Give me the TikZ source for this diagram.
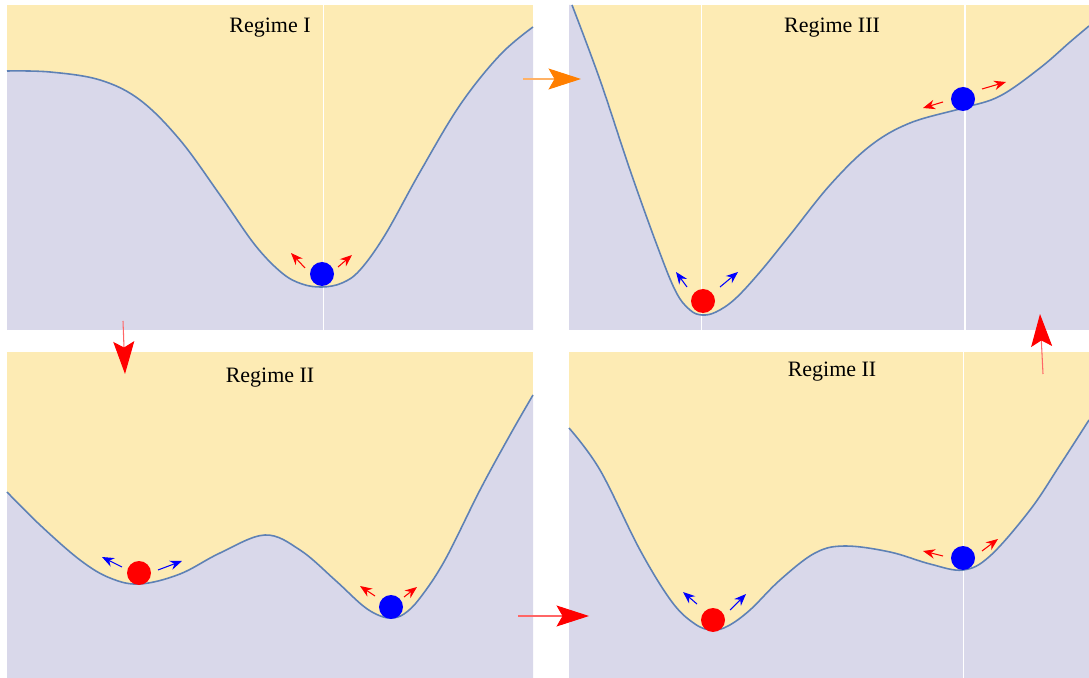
\documentclass[tikz,border=0pt]{standalone}
\usepackage{fontspec}
\setmainfont{Liberation Serif}
\usetikzlibrary{arrows.meta}
\definecolor{WellYellow}{HTML}{FDEBB4}
\definecolor{WellLilac}{HTML}{D9D8EA}
\definecolor{CurveBlue}{HTML}{5E81B5}
\definecolor{FlowOrange}{HTML}{FF7F00}

\begin{document}
\begin{tikzpicture}[x=0.02cm,y=-0.02cm,
    every node/.style={font=\fontsize{12.5}{14}\selectfont},
    landscape/.style={draw=CurveBlue,line width=0.9pt},
    ball/.style={circle,inner sep=0pt,minimum size=0.48cm},
    kick/.style={-{Stealth[length=2.4mm,width=1.9mm]},line width=0.6pt},
    flow/.style={-{Stealth[length=6.5mm,width=4.2mm,inset=1.2mm,color=#1]},
                 line width=0.6pt,draw=#1!60}]
  \useasboundingbox (0,0) rectangle (1089,678);

  % Regime I
  \fill[WellYellow] (7,5) rectangle (533,330);
  \fill[WellLilac] plot[smooth,tension=0.6] coordinates {(7,71) (50,72) (100,80)
    (140,100) (180,140) (220,195) (255,245) (282,273) (302,284) (322,287)
    (342,283) (360,270) (385,235) (420,172) (460,105) (500,55) (533,27)}
    -- (533,330) -- (7,330) -- cycle;
  \draw[white,line width=0.3pt] (323,5) -- (323,330);
  \draw[landscape] plot[smooth,tension=0.6] coordinates {(7,71) (50,72) (100,80)
    (140,100) (180,140) (220,195) (255,245) (282,273) (302,284) (322,287)
    (342,283) (360,270) (385,235) (420,172) (460,105) (500,55) (533,27)};
  \node (t1) at (270,28) {Regime I};
  \node[ball,fill=blue] (b1) at (322,274) {};
  \draw[kick,red] ([shift={(-17,-6)}]b1.center) -- ++(-14,-15);
  \draw[kick,red] ([shift={(16,-7)}]b1.center) -- ++(14,-12);

  % Regime III
  \fill[WellYellow] (569,5) rectangle (1089,330);
  \fill[WellLilac] plot[smooth,tension=0.6] coordinates {(572,5) (600,80)
    (630,170) (658,248) (676,292) (690,310) (702,315) (716,312) (735,299)
    (760,272) (790,235) (830,185) (870,146) (910,123) (963,108) (1000,96)
    (1040,68) (1070,42) (1089,26)}
    -- (1089,330) -- (569,330) -- (569,5) -- cycle;
  \draw[white,line width=0.3pt] (701,5) -- (701,330);
  \draw[white,line width=1.2pt] (965,5) -- (965,330);
  \draw[landscape] plot[smooth,tension=0.6] coordinates {(572,5) (600,80)
    (630,170) (658,248) (676,292) (690,310) (702,315) (716,312) (735,299)
    (760,272) (790,235) (830,185) (870,146) (910,123) (963,108) (1000,96)
    (1040,68) (1070,42) (1089,26)};
  \node (t2) at (832,28) {Regime III};
  \node[ball,fill=red] (b2) at (703,301) {};
  \draw[kick,blue] ([shift={(-16,-14)}]b2.center) -- ++(-11,-15);
  \draw[kick,blue] ([shift={(17,-14)}]b2.center) -- ++(18,-15);
  \node[ball,fill=blue] (b3) at (963,99) {};
  \draw[kick,red] ([shift={(-20,3)}]b3.center) -- ++(-20,6);
  \draw[kick,red] ([shift={(19,-10)}]b3.center) -- ++(24,-7);

  % Regime II (left)
  \fill[WellYellow] (7,352) rectangle (533,678);
  \fill[WellLilac] plot[smooth,tension=0.6] coordinates {(7,492) (40,525)
    (80,560) (110,578) (140,584) (180,574) (220,553) (265,535) (300,550)
    (335,580) (362,605) (378,615) (391,618) (404,614) (420,598) (445,560)
    (480,490) (510,435) (533,395)}
    -- (533,678) -- (7,678) -- cycle;
  \draw[landscape] plot[smooth,tension=0.6] coordinates {(7,492) (40,525)
    (80,560) (110,578) (140,584) (180,574) (220,553) (265,535) (300,550)
    (335,580) (362,605) (378,615) (391,618) (404,614) (420,598) (445,560)
    (480,490) (510,435) (533,395)};
  \node (t3) at (270,378) {Regime II};
  \node[ball,fill=red] (b4) at (139,573) {};
  \draw[kick,blue] ([shift={(-17,-6)}]b4.center) -- ++(-20,-10);
  \draw[kick,blue] ([shift={(19,-3)}]b4.center) -- ++(24,-9);
  \node[ball,fill=blue] (b5) at (391,607) {};
  \draw[kick,red] ([shift={(-16,-11)}]b5.center) -- ++(-15,-10);
  \draw[kick,red] ([shift={(13,-10)}]b5.center) -- ++(13,-10);

  % Regime II (right)
  \fill[WellYellow] (569,352) rectangle (1089,678);
  \fill[WellLilac] plot[smooth,tension=0.6] coordinates {(569,428) (600,470)
    (640,550) (672,602) (695,624) (712,630) (728,626) (750,610) (780,580)
    (815,553) (845,546) (890,552) (930,564) (963,570) (990,556) (1030,510)
    (1060,465) (1089,420)}
    -- (1089,678) -- (569,678) -- cycle;
  \draw[white,line width=0.3pt] (963,352) -- (963,678);
  \draw[landscape] plot[smooth,tension=0.6] coordinates {(569,428) (600,470)
    (640,550) (672,602) (695,624) (712,630) (728,626) (750,610) (780,580)
    (815,553) (845,546) (890,552) (930,564) (963,570) (990,556) (1030,510)
    (1060,465) (1089,420)};
  \node (t4) at (832,372) {Regime II};
  \node[ball,fill=red] (b6) at (713,620) {};
  \draw[kick,blue] ([shift={(-16,-16)}]b6.center) -- ++(-14,-12);
  \draw[kick,blue] ([shift={(17,-10)}]b6.center) -- ++(16,-16);
  \node[ball,fill=blue] (b7) at (963,558) {};
  \draw[kick,red] ([shift={(-20,-2)}]b7.center) -- ++(-20,-5);
  \draw[kick,red] ([shift={(19,-7)}]b7.center) -- ++(16,-12);

  % transitions
  \coordinate (o1) at (523,79);  \coordinate (o2) at (581,79);
  \coordinate (d1) at (123,321); \coordinate (d2) at (125,374);
  \coordinate (r1) at (518,616); \coordinate (r2) at (589,616);
  \coordinate (u1) at (1043,374); \coordinate (u2) at (1040,314);
  \draw[flow=FlowOrange] (o1) -- (o2);
  \draw[flow=red] (d1) -- (d2);
  \draw[flow=red] (r1) -- (r2);
  \draw[flow=red] (u1) -- (u2);
\end{tikzpicture}
\end{document}
